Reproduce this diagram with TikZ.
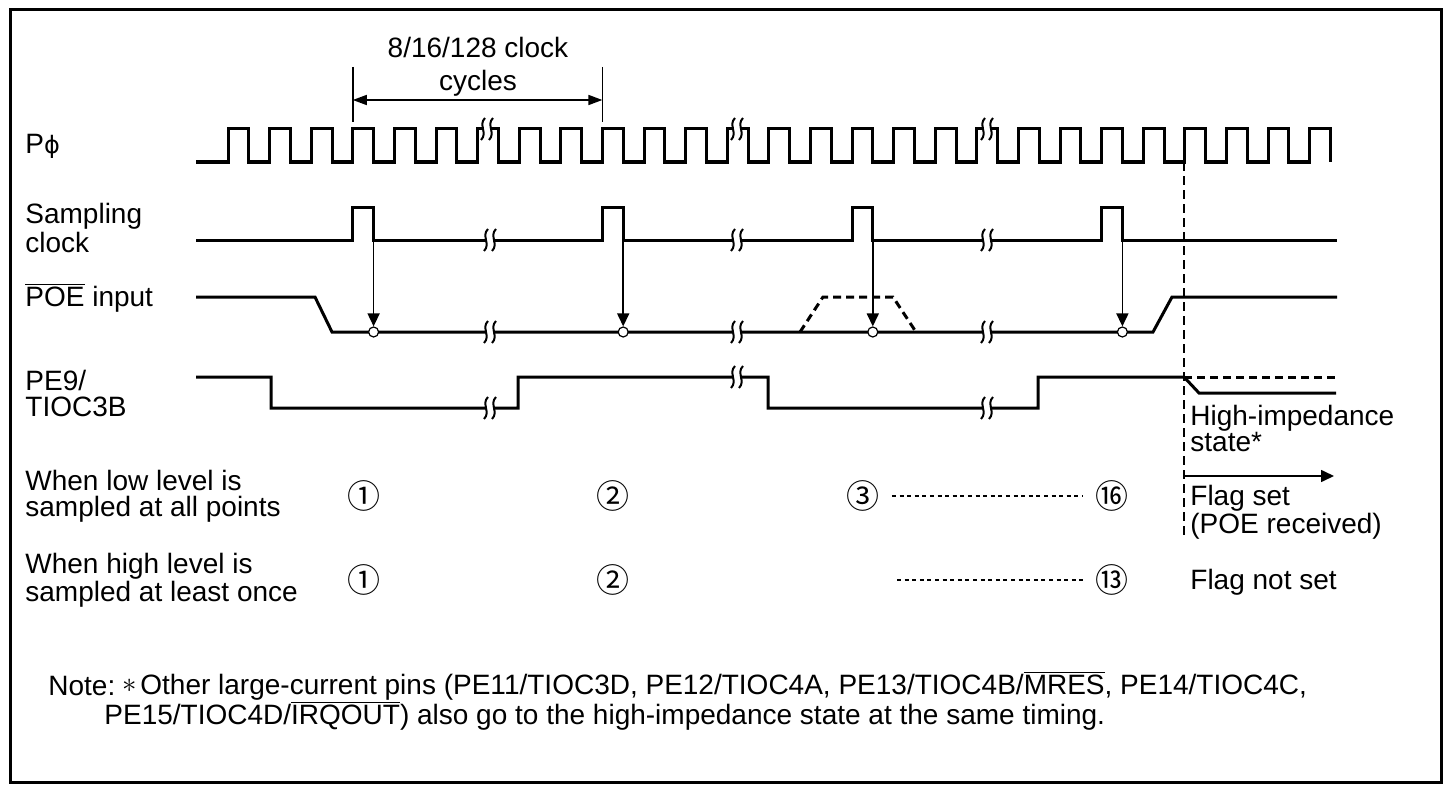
\documentclass[tikz,border=0pt]{standalone}
\usepackage{fontspec}
\setmainfont{Liberation Sans}
\newfontfamily\cjk{Noto Sans CJK JP}
\newfontfamily\dvs{DejaVu Sans}
\usetikzlibrary{arrows.meta}
\newcommand\ovl[1]{\setbox0\hbox{#1}\rlap{\rule[\dimexpr\ht0+0.6pt\relax]{\wd0}{0.6pt}}\box0\relax}
\begin{document}
\begin{tikzpicture}[x=0.5pt,y=-0.5pt,
  sig/.style={line width=1.5pt},
  fine/.style={line width=0.8pt},
  lbl/.style={inner sep=0pt, align=left, font=\fontsize{14pt}{13pt}\selectfont},
  cnum/.style={inner sep=0pt, font=\cjk\fontsize{16.5pt}{16pt}\selectfont},
  smp/.style={circle, draw, fill=white, line width=0.6pt, minimum size=5pt, inner sep=0pt},
  tip/.style={-{Triangle[length=6.5pt,width=6pt]}},
  dimtip/.style={{Triangle[length=7pt,width=5pt]}-{Triangle[length=7pt,width=5pt]}},
  sigdash/.style={line width=1.5pt, dash pattern=on 4pt off 2.5pt},
  vdash/.style={line width=0.7pt, dash pattern=on 4.5pt off 2.5pt},
  dotline/.style={line width=0.6pt, dash pattern=on 2pt off 1.8pt},
  brk/.pic={
    \fill[white] (-3,-3.5) rectangle (3,3.5);
    \draw[line width=1pt] (-2,-11) .. controls (-9,-4) and (1,4) .. (-6,11);
    \draw[line width=1pt] (6,-11) .. controls (-1,-4) and (9,4) .. (2,11);
  }]
\useasboundingbox (0,0) rectangle (1451,792);
\draw[line width=1.5pt] (10,10) rectangle (1441,782);

% clock
\draw[sig] (196,162) \foreach \k in {0,...,26} {
  -- ({228+\k*41.6},162) -- ({228+\k*41.6},129) -- ({248.8+\k*41.6},129) -- ({248.8+\k*41.6},162) };
\foreach \x in {487,737,987} \path (\x,129) pic {brk};

% dimension
\coordinate (d1t) at (352.8,67); \coordinate (d1b) at (352.8,122);
\coordinate (d2t) at (602.4,67); \coordinate (d2b) at (602.4,122);
\draw[fine] (d1t) -- (d1b);
\draw[fine] (d2t) -- (d2b);
\coordinate (da) at (352.8,100);
\coordinate (db) at (602.4,100);
\draw[fine,dimtip] (da) -- (db);
\node[lbl, align=center, font=\fontsize{14pt}{16.5pt}\selectfont] (dimtxt) at (478,67) {8/16/128 clock\\cycles};

% sampling clock
\draw[sig] (196,240) \foreach \k in {3,9,15,21} {
  -- ({228+\k*41.6},240) -- ({228+\k*41.6},207) -- ({248.8+\k*41.6},207) -- ({248.8+\k*41.6},240) } -- (1337,240);
\foreach \x in {490,737,987} \path (\x,240) pic {brk};

% POE input
\draw[sig] (196,297) -- (315,297) -- (332,332) -- (1153,332) -- (1172,297) -- (1337,297);
\draw[sigdash] (800,332) -- (823,297) -- (893,297) -- (916,332);
\foreach \x in {490,737,987} \path (\x,332) pic {brk};

% sample arrows
\foreach \i/\k in {1/3,2/9,3/15,4/21} {
  \coordinate (s\i) at ({248.8+\k*41.6},240);
  \node[smp] (c\i) at ({248.8+\k*41.6},332) {};
  \draw[fine,tip] (s\i) -- (c\i.north);
}

% PE9
\draw[sig] (196,377) -- (271,377) -- (271,408) -- (518,408) -- (518,377) -- (768,377) -- (768,408) -- (1038,408) -- (1038,377) -- (1184,377) -- (1199,393) -- (1336,393);
\draw[sigdash] (1184,377) -- (1336,377);
\path (490,408) pic {brk};
\path (737,377) pic {brk};
\path (987,408) pic {brk};

% vertical dashed
\coordinate (vt) at (1184,162);
\coordinate (vb) at (1184,540);
\draw[vdash] (vt) -- (vb);
\coordinate (fa) at (1184,476);
\coordinate (fb) at (1334,476);
\draw[fine,tip] (fa) -- (fb);

% left labels
\node[lbl, anchor=west] (lp) at (25,146) {P{\dvs\fontsize{12pt}{12pt}\selectfont ϕ}};
\node[lbl, anchor=west] (ls) at (25,228) {Sampling\\clock};
\node[lbl, anchor=west] (lpoe) at (25,298) {\ovl{POE} input};
\node[lbl, anchor=west] (lpe) at (25,393) {PE9/\\TIOC3B};
\node[lbl, anchor=west] (lw1) at (25,496) {When low level is\\sampled at all points};
\node[lbl, anchor=west] (lw2) at (25,580) {When high level is\\sampled at least once};

% right labels
\node[lbl, anchor=west] (lhz) at (1190,428) {High-impedance\\state*};
\node[lbl, anchor=west] (lfs) at (1190,512) {Flag set\\(POE received)};
\node[lbl, anchor=west] (lfn) at (1190,582) {Flag not set};

% circled numbers
\node[cnum] (a1) at (364,496) {①};
\node[cnum] (a2) at (613,496) {②};
\node[cnum] (a3) at (863,496) {③};
\node[cnum] (a16) at (1112,496) {⑯};
\draw[dotline] ([xshift=6pt]a3.east) -- ([xshift=-6pt]a16.west);
\node[cnum] (b1) at (364,580) {①};
\node[cnum] (b2) at (613,580) {②};
\node[cnum] (b13) at (1112,580) {⑬};
\coordinate (b0) at (897,580);
\draw[dotline] (b0) -- ([xshift=-6pt]b13.west);

% note
\node[lbl, anchor=west] (nl) at (48,686) {Note:};
\node[lbl, anchor=west] (ns) at (122,686) {$\ast$};
\node[lbl, anchor=west] (nt1) at (140,686) {Other large-current pins (PE11/TIOC3D, PE12/TIOC4A, PE13/TIOC4B/\ovl{MRES}, PE14/TIOC4C,};
\node[lbl, anchor=west] (nt2) at (104,716) {PE15/TIOC4D/\ovl{IRQOUT}) also go to the high-impedance state at the same timing.};
\end{tikzpicture}
\end{document}
